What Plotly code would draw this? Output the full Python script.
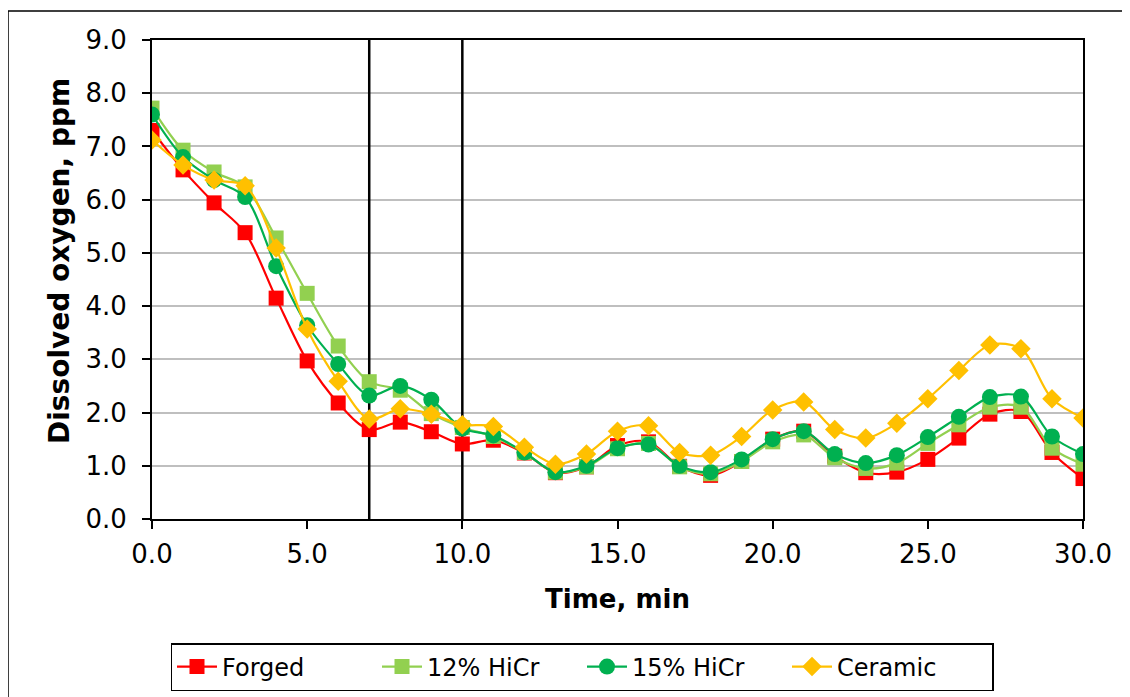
import plotly.graph_objects as go

time_min = list(range(0, 31))

forged = [7.30, 6.56, 5.94, 5.38, 4.15, 2.97, 2.18, 1.68, 1.82, 1.64, 1.41, 1.48, 1.24, 0.87, 0.98,
          1.38, 1.45, 0.99, 0.82, 1.08, 1.50, 1.65, 1.18, 0.87, 0.88, 1.12, 1.52, 1.97, 2.02, 1.25, 0.76]
hicr12 = [7.72, 6.93, 6.52, 6.24, 5.28, 4.24, 3.25, 2.58, 2.42, 1.98, 1.72, 1.55, 1.25, 0.88, 0.98,
          1.32, 1.42, 0.98, 0.85, 1.08, 1.45, 1.58, 1.15, 0.95, 1.05, 1.42, 1.77, 2.10, 2.10, 1.33, 1.03]
hicr15 = [7.60, 6.80, 6.37, 6.05, 4.75, 3.64, 2.91, 2.32, 2.50, 2.24, 1.70, 1.57, 1.25, 0.88, 1.00,
          1.33, 1.40, 1.00, 0.88, 1.12, 1.50, 1.65, 1.22, 1.05, 1.20, 1.54, 1.92, 2.29, 2.30, 1.55, 1.22]
ceramic = [7.12, 6.65, 6.37, 6.26, 5.09, 3.57, 2.59, 1.88, 2.07, 1.97, 1.77, 1.74, 1.35, 1.03, 1.22,
           1.65, 1.75, 1.25, 1.20, 1.55, 2.05, 2.20, 1.68, 1.52, 1.80, 2.26, 2.79, 3.27, 3.20, 2.26, 1.90]

series_names = ["Forged", "12% HiCr", "15% HiCr", "Ceramic"]
series_values = [forged, hicr12, hicr15, ceramic]
colors = ["#FF0000", "#92D050", "#00B050", "#FFC000"]
symbols = ["square", "square", "circle", "diamond"]
sizes = [15, 15, 16, 15]

marker_lines_x = [7, 10]

x_title = "Time, min"
y_title = "Dissolved oxygen, ppm"

# figure sits 8px inside the page (body margin); plot area on page: x 152..1083, y 40..519
W, H = 1122, 689
L, T = 144, 32
PW, PH = 931, 479

fig = go.Figure()
for name, vals, c, s, sz in zip(series_names, series_values, colors, symbols, sizes):
    fig.add_trace(go.Scatter(
        x=time_min, y=vals, name=name, mode="lines+markers",
        line=dict(color=c, width=2.2, shape="spline", smoothing=0.9),
        marker=dict(color=c, symbol=s, size=sz, line=dict(width=0)),
    ))

for xv in marker_lines_x:
    fig.add_shape(type="line", x0=xv, x1=xv, y0=0, y1=9, xref="x", yref="y",
                  line=dict(color="black", width=2.5), layer="between")

# outer chart border (page x=8, y=11)
fig.add_shape(type="rect", xref="paper", yref="paper",
              x0=(8 - 152) / PW, x1=1.2, y0=-0.6, y1=(519 - 11) / PH,
              line=dict(color="black", width=1.5), layer="below")

# y-axis title (placed as rotated text, slightly above plot centre as in reference)
fig.add_annotation(text="<b>" + y_title + "</b>", textangle=-90,
                   xref="paper", yref="paper", x=(59 - 152) / PW, y=(519 - 261) / PH,
                   xanchor="center", yanchor="middle", showarrow=False,
                   font=dict(size=28, color="black"))

font = "DejaVu Sans, Verdana, sans-serif"
fig.update_layout(
    width=W, height=H,
    margin=dict(l=L, r=W - L - PW, t=T, b=H - T - PH, autoexpand=False),
    paper_bgcolor="white", plot_bgcolor="white",
    font=dict(family=font, size=26, color="black"),
    showlegend=True,
    legend=dict(orientation="h", x=(582 - 152) / PW, xanchor="center",
                y=(519 - 643) / PH, yanchor="top",
                bordercolor="black", borderwidth=1.5, font=dict(size=24),
                bgcolor="white", itemwidth=40, entrywidth=150, entrywidthmode="pixels"),
    xaxis=dict(range=[0, 30], dtick=5, tick0=0, tickformat=".1f",
               showgrid=False, zeroline=False,
               showline=True, linecolor="black", linewidth=2, mirror=True,
               ticks="outside", ticklen=8, tickwidth=2, tickcolor="black",
               ticklabelstandoff=3, automargin=False,
               title=dict(text="<b>" + x_title + "</b>", standoff=22, font=dict(size=26))),
    yaxis=dict(range=[0, 9], dtick=1, tick0=0, tickformat=".1f",
               showgrid=True, gridcolor="#BFBFBF", gridwidth=1.5, zeroline=False,
               showline=True, linecolor="black", linewidth=2, mirror=True,
               ticks="outside", ticklen=8, tickwidth=2, tickcolor="black",
               ticklabelstandoff=10, automargin=False),
)

fig.write_html("out.html")
